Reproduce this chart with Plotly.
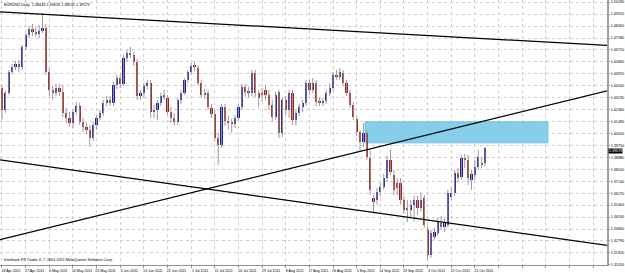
import plotly.graph_objects as go

# ---------------- data ----------------
date_labels = ["18 Apr 2011", "27 Apr 2011", "6 May 2011", "16 May 2011", "25 May 2011",
               "3 Jun 2011", "13 Jun 2011", "22 Jun 2011", "1 Jul 2011", "11 Jul 2011",
               "20 Jul 2011", "29 Jul 2011", "8 Aug 2011", "17 Aug 2011", "26 Aug 2011",
               "5 Sep 2011", "14 Sep 2011", "23 Sep 2011", "3 Oct 2011", "12 Oct 2011",
               "21 Oct 2011"]

open_ = [1.4394, 1.4234, 1.4358, 1.4511, 1.4547, 1.4569, 1.4547, 1.4693, 1.4780, 1.4824,
         1.4802, 1.4787, 1.4809, 1.4831, 1.4511, 1.4380, 1.4358, 1.4394, 1.4365, 1.4213,
         1.4176, 1.4140, 1.4220, 1.4263, 1.4147, 1.4111, 1.4089, 1.4030, 1.4125, 1.4176,
         1.4213, 1.4285, 1.4307, 1.4285, 1.4416, 1.4467, 1.4423, 1.4613, 1.4649, 1.4635,
         1.4584, 1.4336, 1.4358, 1.4409, 1.4431, 1.4220, 1.4234, 1.4285, 1.4336, 1.4322,
         1.4220, 1.4176, 1.4147, 1.4307, 1.4358, 1.4453, 1.4511, 1.4555, 1.4540, 1.4431,
         1.4343, 1.4358, 1.4249, 1.4205, 1.4030, 1.3979, 1.4256, 1.4154, 1.4140, 1.4132,
         1.4176, 1.4256, 1.4402, 1.4365, 1.4358, 1.4504, 1.4358, 1.4358, 1.4380, 1.4343,
         1.4271, 1.4183, 1.4365, 1.4067, 1.4307, 1.4234, 1.4358, 1.4162, 1.4213, 1.4256,
         1.4285, 1.4431, 1.4380, 1.4431, 1.4292, 1.4285, 1.4300, 1.4358, 1.4394, 1.4489,
         1.4474, 1.4504, 1.4431, 1.4358, 1.4271, 1.4169, 1.4074, 1.4001, 1.4067, 1.3885,
         1.3594, 1.3579, 1.3637, 1.3674, 1.3739, 1.3870, 1.3761, 1.3703, 1.3703, 1.3579,
         1.3521, 1.3506, 1.3543, 1.3579, 1.3521, 1.3594, 1.3361, 1.3179, 1.3310, 1.3339,
         1.3412, 1.3382, 1.3397, 1.3601, 1.3630, 1.3776, 1.3746, 1.3885, 1.3870, 1.3725,
         1.3761, 1.3819, 1.3848, 1.38443]

high = [1.4409, 1.4373, 1.4525, 1.4569, 1.4591, 1.4598, 1.4707, 1.4795, 1.4846, 1.4860,
        1.4838, 1.4853, 1.4940, 1.4860, 1.4540, 1.4409, 1.4423, 1.4423, 1.4416, 1.4249,
        1.4220, 1.4234, 1.4292, 1.4285, 1.4176, 1.4140, 1.4125, 1.4147, 1.4198, 1.4234,
        1.4307, 1.4336, 1.4336, 1.4438, 1.4489, 1.4496, 1.4635, 1.4671, 1.4693, 1.4656,
        1.4605, 1.4380, 1.4431, 1.4453, 1.4453, 1.4271, 1.4307, 1.4358, 1.4380, 1.4343,
        1.4256, 1.4213, 1.4322, 1.4380, 1.4467, 1.4525, 1.4576, 1.4584, 1.4562, 1.4453,
        1.4387, 1.4380, 1.4278, 1.4234, 1.4067, 1.4278, 1.4278, 1.4191, 1.4169, 1.4198,
        1.4278, 1.4423, 1.4423, 1.4402, 1.4525, 1.4525, 1.4380, 1.4394, 1.4409, 1.4380,
        1.4307, 1.4365, 1.4380, 1.4322, 1.4336, 1.4380, 1.4380, 1.4234, 1.4278, 1.4307,
        1.4453, 1.4453, 1.4467, 1.4453, 1.4322, 1.4322, 1.4380, 1.4431, 1.4511, 1.4525,
        1.4540, 1.4525, 1.4453, 1.4380, 1.4292, 1.4183, 1.4089, 1.4140, 1.4089, 1.3943,
        1.3615, 1.3666, 1.3703, 1.3768, 1.3899, 1.3943, 1.3797, 1.3739, 1.3739, 1.3608,
        1.3579, 1.3579, 1.3608, 1.3608, 1.3637, 1.3615, 1.3390, 1.3361, 1.3375, 1.3448,
        1.3463, 1.3441, 1.3652, 1.3666, 1.3797, 1.3812, 1.3907, 1.3914, 1.3907, 1.3797,
        1.3870, 1.3943, 1.3885, 1.39626]

low = [1.4162, 1.4213, 1.4343, 1.4496, 1.4525, 1.4511, 1.4525, 1.4671, 1.4758, 1.4773,
       1.4766, 1.4758, 1.4795, 1.4489, 1.4336, 1.4307, 1.4336, 1.4336, 1.4183, 1.4140,
       1.4111, 1.4103, 1.4198, 1.4125, 1.4074, 1.4060, 1.3965, 1.4008, 1.4089, 1.4154,
       1.4191, 1.4263, 1.4263, 1.4263, 1.4387, 1.4394, 1.4409, 1.4584, 1.4613, 1.4555,
       1.4307, 1.4307, 1.4329, 1.4387, 1.4176, 1.4176, 1.4162, 1.4263, 1.4307, 1.4198,
       1.4140, 1.4118, 1.4125, 1.4278, 1.4343, 1.4431, 1.4489, 1.4518, 1.4416, 1.4322,
       1.4314, 1.4234, 1.4176, 1.4008, 1.3834, 1.3958, 1.4118, 1.4089, 1.4067, 1.4103,
       1.4154, 1.4234, 1.4329, 1.4322, 1.4336, 1.4329, 1.4249, 1.4292, 1.4307, 1.4234,
       1.4147, 1.4162, 1.4030, 1.4038, 1.4198, 1.4176, 1.4125, 1.4118, 1.4191, 1.4220,
       1.4263, 1.4343, 1.4358, 1.4263, 1.4263, 1.4263, 1.4278, 1.4336, 1.4373, 1.4453,
       1.4453, 1.4409, 1.4336, 1.4249, 1.4162, 1.4045, 1.3928, 1.3965, 1.3870, 1.3615,
       1.3492, 1.3543, 1.3608, 1.3652, 1.3710, 1.3761, 1.3615, 1.3615, 1.3543, 1.3477,
       1.3419, 1.3448, 1.3419, 1.3470, 1.3492, 1.3375, 1.3142, 1.3157, 1.3288, 1.3317,
       1.3361, 1.3346, 1.3375, 1.3579, 1.3608, 1.3710, 1.3725, 1.3812, 1.3688, 1.3652,
       1.3725, 1.3797, 1.3812, 1.38235]

close = [1.4234, 1.4358, 1.4511, 1.4547, 1.4569, 1.4547, 1.4693, 1.4780, 1.4824, 1.4802,
         1.4787, 1.4809, 1.4831, 1.4511, 1.4380, 1.4358, 1.4394, 1.4365, 1.4213, 1.4176,
         1.4140, 1.4220, 1.4263, 1.4147, 1.4111, 1.4089, 1.4030, 1.4125, 1.4176, 1.4213,
         1.4285, 1.4307, 1.4285, 1.4416, 1.4467, 1.4423, 1.4613, 1.4649, 1.4635, 1.4584,
         1.4336, 1.4358, 1.4409, 1.4431, 1.4220, 1.4234, 1.4285, 1.4336, 1.4329, 1.4220,
         1.4176, 1.4147, 1.4307, 1.4358, 1.4453, 1.4511, 1.4555, 1.4547, 1.4431, 1.4343,
         1.4358, 1.4256, 1.4205, 1.4030, 1.3979, 1.4256, 1.4154, 1.4140, 1.4132, 1.4176,
         1.4256, 1.4402, 1.4365, 1.4358, 1.4504, 1.4358, 1.4322, 1.4343, 1.4343, 1.4271,
         1.4183, 1.4343, 1.4067, 1.4307, 1.4234, 1.4358, 1.4162, 1.4213, 1.4256, 1.4285,
         1.4431, 1.4380, 1.4431, 1.4292, 1.4285, 1.4300, 1.4358, 1.4394, 1.4489, 1.4474,
         1.4511, 1.4431, 1.4358, 1.4271, 1.4183, 1.4074, 1.4001, 1.4067, 1.3892, 1.3652,
         1.3564, 1.3637, 1.3674, 1.3739, 1.3870, 1.3783, 1.3652, 1.3666, 1.3579, 1.3506,
         1.3506, 1.3543, 1.3579, 1.3521, 1.3579, 1.3397, 1.3179, 1.3339, 1.3346, 1.3419,
         1.3382, 1.3412, 1.3630, 1.3630, 1.3776, 1.3739, 1.3885, 1.3870, 1.3739, 1.3768,
         1.3819, 1.3892, 1.3834, 1.39579]

price_ticks = [1.31050, 1.31920, 1.32790, 1.33660, 1.34530, 1.35400, 1.36270, 1.37140,
               1.38010, 1.38880, 1.39750, 1.40620, 1.41490, 1.42360, 1.43230, 1.44100,
               1.44970, 1.45840, 1.46710, 1.47580, 1.48450, 1.49320, 1.50190]

# user-drawn trend lines: (bar index, price) end points
trend_upper_x, trend_upper_y = [-0.6, 179.2], [1.4948, 1.4704]
trend_rising_x, trend_rising_y = [-0.6, 179.2], [1.3288, 1.4373]
trend_lower_x, trend_lower_y = [-0.6, 179.2], [1.3870, 1.3247]

# resistance zone rectangle (bar index range, price range)
zone_x = [107.5, 161.6]
zone_y = [1.3994, 1.4147]

title_text = "EURUSD,Daily  1.38443 1.39626 1.38235 1.39579"
copyright_text = "Interbank FX Trader 4, \u00a9 2001-2011 MetaQuotes Software Corp."
last_price = close[-1]

# ---------------- figure ----------------
n = len(close)
bar_index = list(range(n))

FONT = "Liberation Sans"
UP = "#1c1ca8"
DOWN = "#a81c1c"
WICK = "#9a9a9a"

wx, wy = [], []
for i in bar_index:
    wx += [i, i, None]
    wy += [low[i], high[i], None]

base = [min(o, c) for o, c in zip(open_, close)]
height = [max(abs(c - o), 0.0005) for o, c in zip(open_, close)]
colors = [UP if c >= o else DOWN for o, c in zip(open_, close)]

fig = go.Figure()

fig.add_trace(go.Scatter(x=wx, y=wy, mode="lines",
                         line=dict(color=WICK, width=1), hoverinfo="skip",
                         showlegend=False))
fig.add_trace(go.Bar(x=bar_index, y=height, base=base, width=0.66,
                     marker=dict(color=colors, line=dict(width=0)),
                     showlegend=False))

for tx, ty in [(trend_upper_x, trend_upper_y),
               (trend_rising_x, trend_rising_y),
               (trend_lower_x, trend_lower_y)]:
    fig.add_trace(go.Scatter(x=tx, y=ty, mode="lines",
                             line=dict(color="#000000", width=1.2),
                             hoverinfo="skip", showlegend=False))

fig.add_shape(type="rect", xref="x", yref="y",
              x0=zone_x[0], x1=zone_x[1], y0=zone_y[0], y1=zone_y[1],
              fillcolor="#87CEEB", line=dict(color="#74bde0", width=1),
              layer="between")

tick_positions = list(range(0, 176, 7))
tick_text = date_labels + [""] * (len(tick_positions) - len(date_labels))

fig.update_layout(
    width=625, height=273,
    margin=dict(l=0, r=18, t=0, b=8, autoexpand=False),
    paper_bgcolor="#ffffff", plot_bgcolor="#ffffff",
    bargap=0, showlegend=False,
    font=dict(family=FONT, size=4, color="#000000"),
)

fig.update_xaxes(
    range=[-0.59, 179.1], tickmode="array",
    tickvals=tick_positions, ticktext=tick_text, tickangle=0, automargin=False,
    showgrid=True, gridcolor="#cfcfcf", griddash="dot", gridwidth=1,
    zeroline=False, showline=True, linecolor="#909090", linewidth=1,
    ticks="outside", ticklen=2, tickcolor="#909090",
    tickfont=dict(size=3.6, family=FONT), ticklabelshift=9,
    ticklabelstandoff=0,
)

fig.update_yaxes(
    range=[1.3104, 1.5035], side="right", tickmode="array",
    tickvals=price_ticks, tickformat=".5f", automargin=False,
    showgrid=True, gridcolor="#cfcfcf", griddash="dot", gridwidth=1,
    zeroline=False, showline=True, linecolor="#a0a0a0", linewidth=2,
    ticks="outside", ticklen=1, tickcolor="#909090",
    tickfont=dict(size=3.7, family=FONT), ticklabelstandoff=0,
)

fig.add_annotation(xref="paper", yref="paper", x=0.004, y=0.995,
                   xanchor="left", yanchor="top", showarrow=False,
                   text=title_text, font=dict(size=3.8, family=FONT, color="#000000"))
fig.add_annotation(xref="paper", yref="paper", x=0.004, y=0.002,
                   xanchor="left", yanchor="bottom", showarrow=False,
                   text=copyright_text, font=dict(size=3.8, family=FONT, color="#000000"))
fig.add_annotation(xref="paper", yref="y", x=1.0, y=last_price,
                   xanchor="left", yanchor="top", showarrow=False, xshift=1,
                   text=f"{last_price:.5f}", bgcolor="#000000", borderpad=0,
                   font=dict(size=3.7, family=FONT, color="#ffffff"))

fig.write_html("out.html")
